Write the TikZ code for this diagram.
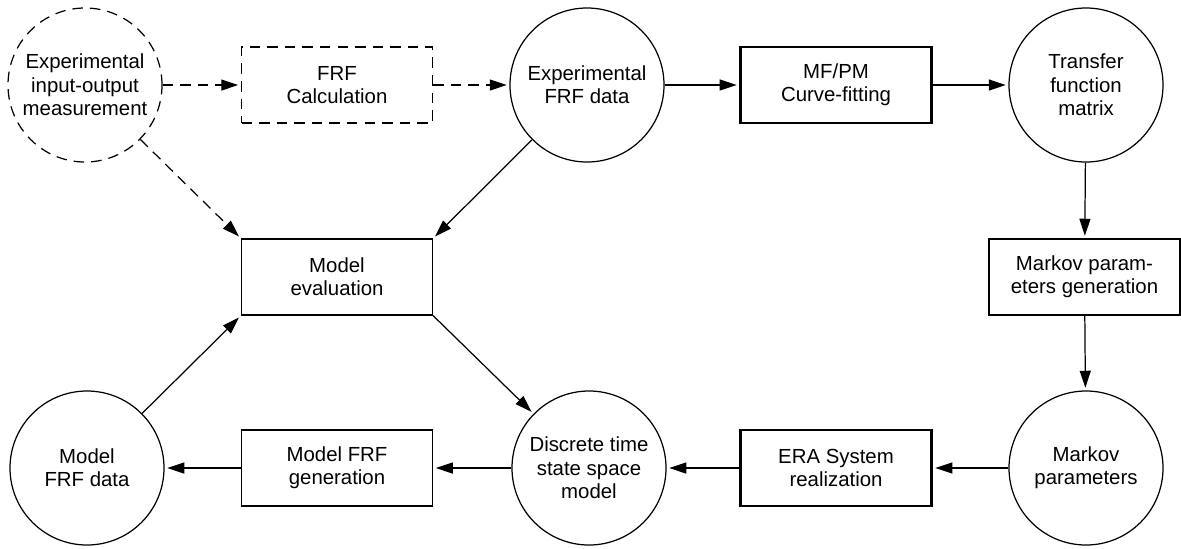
\documentclass[tikz,border=0pt]{standalone}
\usepackage{fontspec}
\setmainfont{Liberation Sans}
\usepackage{tikz}
\usetikzlibrary{arrows.meta,positioning}

\begin{document}
\begin{tikzpicture}[
    font=\fontsize{11.6pt}{13.3pt}\selectfont,
    line width=0.7pt,
    proc/.style={draw, align=center, minimum width=3.82cm, minimum height=1.52cm, inner sep=2pt},
    keyproc/.style={proc, line width=1.4pt},
    data/.style={draw, circle, align=center, minimum size=3.08cm, inner sep=0pt},
    optional/.style={dash pattern=on 6pt off 4pt},
    arrow/.style={-{Triangle[length=3.4mm,width=2.2mm]}, shorten >=1.5pt}
]
\useasboundingbox (0,0) rectangle (23.62,-10.96);

% top row
\node[data, optional] (meas) at (1.70,-1.70) {Experimental\\input-output\\measurement};
\node[proc, optional] (frfcalc) at (6.74,-1.70) {FRF\\Calculation};
\node[data] (expfrf) at (11.74,-1.70) {Experimental\\FRF data};
\node[keyproc] (mfpm) at (16.72,-1.70) {MF/PM\\Curve-fitting};
\node[data] (tfm) at (21.72,-1.70) {Transfer\\function\\matrix};

% middle row
\node[proc] (modeval) at (6.74,-5.54) {Model\\evaluation};
\node[proc] (markgen) at (21.69,-5.54) {Markov param-\\eters generation};

% bottom row
\node[data] (mfrf) at (1.74,-9.36) {Model\\FRF data};
\node[proc] (mfrfgen) at (6.74,-9.36) {Model FRF\\generation};
\node[data] (dtss) at (11.78,-9.36) {Discrete time\\state space\\model};
\node[keyproc] (era) at (16.72,-9.36) {ERA System\\realization};
\node[data] (markov) at (21.72,-9.36) {Markov\\parameters};

\draw[arrow, optional] (meas) -- (frfcalc);
\draw[arrow, optional] (frfcalc) -- (expfrf);
\draw[arrow] (expfrf) -- (mfpm);
\draw[arrow] (mfpm) -- (tfm);
\draw[arrow] (tfm) -- (markgen);
\draw[arrow] (markgen) -- (markov);
\draw[arrow] (markov) -- (era);
\draw[arrow] (era) -- (dtss);
\draw[arrow] (dtss) -- (mfrfgen);
\draw[arrow] (mfrfgen) -- (mfrf);

\draw[arrow, optional] (meas) -- (modeval.north west);
\draw[arrow] (expfrf) -- (modeval.north east);
\draw[arrow] (mfrf) -- (modeval.south west);
\draw[arrow] (modeval.south east) -- (dtss);

\end{tikzpicture}
\end{document}
